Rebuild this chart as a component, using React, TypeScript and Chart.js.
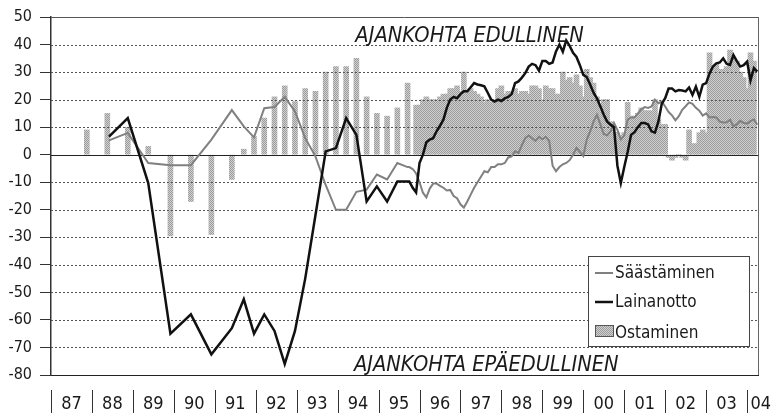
import React, { useEffect, useRef } from 'react';
import { Chart, registerables } from 'chart.js';

Chart.register(...registerables);

// x positions are months counted from January 1987
const yearLabels = ['87', '88', '89', '90', '91', '92', '93', '94', '95', '96', '97', '98', '99', '00', '01', '02', '03', '04'];
const yearLabelPos = [6, 18, 30, 42, 54, 66, 78, 90, 102, 114, 126, 138, 150, 162, 174, 186, 198, 208];
const yearBoundaries = [0, 12, 24, 36, 48, 60, 72, 84, 96, 108, 120, 132, 144, 156, 168, 180, 192, 204];

const yTicks = [50, 40, 30, 20, 10, 0, -10, -20, -30, -40, -50, -60, -70, -80];

const noteTop = 'AJANKOHTA EDULLINEN';
const noteBottom = 'AJANKOHTA EPÄEDULLINEN';

const seriesNames = ['Säästäminen', 'Lainanotto', 'Ostaminen'];

// Ostaminen (bars): sparse early readings, then monthly from month 107
const ostaminenEarlyX = [10.5, 16.5, 22.5, 28.5, 35, 41, 47, 53, 56.5, 59.5, 62.5, 65.5, 68.5, 71.5, 74.5, 77.5, 80.5, 83.5, 86.5, 89.5, 92.5, 95.5, 98.5, 101.5, 104.5];
const ostaminenEarlyY = [9, 15, 10, 3, -29.5, -17, -29, -9, 2, 6.6, 13.3, 21, 25, 19.3, 24, 23, 30, 32, 32, 35, 21, 15, 14, 17, 26];
const ostaminenMonthlyStart = 107;
const ostaminenMonthly = [
  18, 18, 20, 21, 20, 20, 20, 21, 22, 22,
  24, 24, 25, 23, 30, 23, 24, 23, 22, 21,
  19, 20, 19, 20, 24, 25, 22, 23, 22, 24,
  22, 23, 23, 22, 25, 25, 24, 20, 25, 24,
  24, 22, 22, 30, 27, 28, 26, 29, 25, 21,
  31, 28, 26, 21, 16, 20, 20, 12, 8, 8,
  7, 8, 19, 14, 14, 15, 17, 16, 16, 16,
  20, 13, 11, 11, -1, -2, -1, 0, -1, -2,
  9, 4, 4, 8, 9, 8, 37, 32, 33, 31,
  31, 32, 38, 35, 34, 30, 28, 24, 37, 34,
];

// Lainanotto (black line)
const lainaEarlyX = [17, 22.5, 28.5, 35, 41, 47, 53, 56.5, 59.5, 62.5, 65.5, 68.5, 71.5, 74.5, 77.5, 80.5, 83.5, 86.5, 89.5, 92.5, 95.5, 98.5, 101.5, 104.5];
const lainaEarlyY = [6.6, 13.3, -10.3, -65, -58, -72.5, -63, -52.5, -65, -58, -64, -76, -64, -45, -22, 1.2, 2.4, 13.3, 7.2, -17, -11.5, -17, -9.7, -9.7];
const lainaMonthlyStart = 105;
const lainaMonthly = [
  -9.7, -12, -13.7, -3, 0, 4.5, 5.5, 6, 8.5, 10.5,
  12.7, 17, 20, 21, 20.5, 22, 23, 23, 24.5, 26,
  25.5, 25.2, 24.8, 22.5, 20, 19.3, 20, 19.5, 20.5, 21,
  22, 26, 26.6, 28, 29.6, 32, 33, 32.5, 30.5, 34,
  34, 33, 33.5, 37.5, 40, 37.4, 41.5, 39.5, 37, 35.5,
  32.5, 29, 28.2, 25.5, 22.5, 20.5, 17.5, 14.5, 12, 10.9,
  10, -4, -10.3, -4.5, 1, 7.2, 8.2, 10, 11.5, 11.5,
  11, 8.5, 8, 12, 18.5, 20.5, 24, 24, 23, 23.5,
  23.3, 23, 24.4, 21.7, 24.7, 21, 25.4, 26, 29.5, 32,
  33.2, 33.5, 35, 33, 32.6, 36.2, 34, 32, 32.5, 33.8,
  27, 31.4, 30.2,
];

// Säästäminen (grey line)
const saastoEarlyX = [17, 22.5, 28.5, 35, 41, 47, 53, 56.5, 59.5, 62.5, 65.5, 68.5, 71.5, 74.5, 77.5, 80.5, 83.5, 86.5, 89.5, 92.5, 95.5, 98.5, 101.5, 104.5];
const saastoEarlyY = [5.2, 7.9, -3, -3.8, -3.8, 5.5, 16.2, 10.3, 6.3, 16.9, 17.3, 21, 15.7, 6, -0.6, -11, -20, -20, -13.5, -12.7, -7.2, -9, -3, -4.5];
const saastoMonthlyStart = 105;
const saastoMonthly = [
  -4.5, -5.2, -6.8, -10, -13.8, -15.5, -12.3, -10.5, -10.5, -11.3,
  -12, -13, -12.8, -15, -15.8, -18, -19.2, -17, -14.5, -12,
  -10, -8, -6, -6.4, -4.5, -4.5, -3.5, -3.5, -3, -1,
  -0.6, 1.2, 0.6, 3.5, 6, 7, 6, 5, 6.5, 5.6,
  6.5, 5, -4, -6, -4.5, -3.5, -3, -2, 0, 2.5,
  1, -0.5, 5.4, 8.5, 12, 14.5, 11, 7.5, 7, 8.5,
  11.5, 9, 5.5, 7, 12.7, 13.5, 13.5, 15, 16.5, 17.3,
  17, 17.5, 20, 18.7, 19.3, 17.5, 15.5, 14.3, 12.5, 14,
  16.3, 17.6, 19, 18.5, 17, 16, 14.2, 15, 13.5, 13.7,
  13.5, 12, 11.7, 11.8, 12.7, 10.3, 11, 12.3, 11.5, 11.3,
  12.2, 12.8, 10.9,
];

const FONT = '"Liberation Sans Narrow", "DejaVu Sans Condensed", "Arial Narrow", Roboto, sans-serif';
const SAASTO_COLOR = '#808080';
const LAINA_COLOR = '#111111';

function toPoints(xs: number[], ys: number[], start: number, monthly: number[]) {
  const pts = xs.map((x, i) => ({ x, y: ys[i] }));
  monthly.forEach((v, i) => pts.push({ x: start + i, y: v }));
  return pts;
}

function makePattern(): CanvasPattern | string {
  const c = document.createElement('canvas');
  c.width = 2;
  c.height = 2;
  const g = c.getContext('2d');
  if (!g) return '#b5b5b5';
  g.fillStyle = '#d0d0d0';
  g.fillRect(0, 0, 2, 2);
  g.fillStyle = '#9c9c9c';
  g.fillRect(0, 0, 1, 1);
  g.fillRect(1, 1, 1, 1);
  const p = g.createPattern(c, 'repeat');
  return p || '#b5b5b5';
}

// horizontal grid lines, drawn just after the bars so they show through them
const gridPlugin = {
  id: 'hgrid',
  afterDatasetDraw(chart: any, args: any) {
    if (args.index !== 2) return;
    const { ctx, chartArea, scales } = chart;
    const ys = scales.y;
    ctx.save();
    yTicks.forEach((v) => {
      const py = Math.round(ys.getPixelForValue(v)) + 0.5;
      if (v === 0 || v === -80) {
        ctx.strokeStyle = '#222';
        ctx.lineWidth = 1.2;
        ctx.setLineDash([]);
      } else if (v === 50) {
        ctx.strokeStyle = '#555';
        ctx.lineWidth = 1;
        ctx.setLineDash([]);
      } else {
        ctx.strokeStyle = '#555';
        ctx.lineWidth = 1;
        ctx.setLineDash([2, 2]);
      }
      ctx.beginPath();
      ctx.moveTo(chartArea.left, py);
      ctx.lineTo(chartArea.right, py);
      ctx.stroke();
    });
    ctx.restore();
  },
};

const decorPlugin = {
  id: 'decor',
  afterDraw(chart: any) {
    const { ctx, chartArea, scales } = chart;
    const xs = scales.x;
    const ys = scales.y;
    ctx.save();
    // right border of plot
    ctx.strokeStyle = '#666';
    ctx.lineWidth = 1;
    ctx.beginPath();
    ctx.moveTo(Math.round(chartArea.right) + 0.5, chartArea.top);
    ctx.lineTo(Math.round(chartArea.right) + 0.5, chartArea.bottom);
    ctx.stroke();
    // year separators below the plot
    ctx.strokeStyle = '#333';
    yearBoundaries.forEach((b) => {
      const px = Math.round(xs.getPixelForValue(b)) + 0.5;
      ctx.beginPath();
      ctx.moveTo(px, chartArea.bottom + 15);
      ctx.lineTo(px, chartArea.bottom + 38);
      ctx.stroke();
    });
    // notes
    ctx.fillStyle = '#1a1a1a';
    ctx.font = 'italic 21.6px ' + FONT;
    ctx.textAlign = 'left';
    ctx.textBaseline = 'alphabetic';
    ctx.fillText(noteTop, xs.getPixelForValue(89.2), ys.getPixelForValue(41));
    ctx.fillText(noteBottom, xs.getPixelForValue(88.8), ys.getPixelForValue(-78.5));
    // legend box
    const bx = chartArea.right - 170;
    const by = chartArea.bottom - 119;
    ctx.fillStyle = '#fff';
    ctx.fillRect(bx, by, 161, 90);
    ctx.strokeStyle = '#444';
    ctx.lineWidth = 1;
    ctx.strokeRect(Math.round(bx) + 0.5, Math.round(by) + 0.5, 161, 90);
    ctx.font = '17px ' + FONT;
    const ds = chart.data.datasets;
    const rows = [
      { ds: ds[0], y: by + 17, base: by + 22, kind: 'line' },
      { ds: ds[1], y: by + 46, base: by + 51, kind: 'line' },
      { ds: ds[2], y: by + 75, base: by + 82, kind: 'box' },
    ];
    rows.forEach((r) => {
      if (r.kind === 'line') {
        ctx.strokeStyle = r.ds.borderColor;
        ctx.lineWidth = r.ds.borderWidth;
        ctx.beginPath();
        ctx.moveTo(bx + 7, r.y);
        ctx.lineTo(bx + 25, r.y);
        ctx.stroke();
      } else {
        ctx.fillStyle = r.ds.backgroundColor;
        ctx.fillRect(bx + 7, r.y - 5, 18, 11);
        ctx.strokeStyle = '#555';
        ctx.lineWidth = 1;
        ctx.strokeRect(bx + 7.5, r.y - 5.5, 18, 11);
      }
      ctx.fillStyle = '#1a1a1a';
      ctx.fillText(r.ds.label, bx + 27, r.base);
    });
    ctx.restore();
  },
};

export default function App() {
  const ref = useRef<HTMLCanvasElement | null>(null);

  useEffect(() => {
    document.body.style.margin = '0';
    const canvas = ref.current;
    if (!canvas) return;
    const pattern = makePattern();
    const chart = new Chart(canvas, {
      type: 'bar',
      data: {
        datasets: [
          {
            type: 'line',
            label: seriesNames[0],
            data: toPoints(saastoEarlyX, saastoEarlyY, saastoMonthlyStart, saastoMonthly),
            borderColor: SAASTO_COLOR,
            borderWidth: 2,
            pointRadius: 0,
            tension: 0,
            order: 2,
          } as any,
          {
            type: 'line',
            label: seriesNames[1],
            data: toPoints(lainaEarlyX, lainaEarlyY, lainaMonthlyStart, lainaMonthly),
            borderColor: LAINA_COLOR,
            borderWidth: 2.5,
            pointRadius: 0,
            tension: 0,
            order: 1,
          } as any,
          {
            type: 'bar',
            label: seriesNames[2],
            data: toPoints(ostaminenEarlyX, ostaminenEarlyY, ostaminenMonthlyStart, ostaminenMonthly),
            backgroundColor: pattern as any,
            borderWidth: 0,
            barThickness: 5,
            order: 3,
          } as any,
        ],
      },
      options: {
        responsive: false,
        animation: false,
        devicePixelRatio: 1,
        layout: { padding: { top: 17, right: 13, left: 0, bottom: 0 } },
        plugins: { legend: { display: false }, tooltip: { enabled: false } },
        scales: {
          x: {
            type: 'linear',
            min: 0,
            max: 207.2,
            offset: false,
            afterBuildTicks: (s: any) => {
              s.ticks = yearLabelPos.map((v) => ({ value: v }));
            },
            afterFit: (s: any) => {
              s.height = 38;
              s.paddingLeft = 0;
              s.paddingRight = 0;
            },
            ticks: {
              autoSkip: false,
              maxRotation: 0,
              minRotation: 0,
              padding: 19,
              color: '#1a1a1a',
              font: { family: FONT, size: 18 },
              callback: (_v: any, i: number) => yearLabels[i],
            },
            grid: { display: false, drawTicks: false, offset: false },
            border: { display: true, color: '#222', width: 1 },
          },
          y: {
            min: -80,
            max: 50,
            afterBuildTicks: (s: any) => {
              s.ticks = yTicks.map((v) => ({ value: v }));
            },
            afterFit: (s: any) => {
              s.width = 51;
              s.paddingTop = 0;
              s.paddingBottom = 0;
            },
            ticks: {
              padding: 8,
              color: '#1a1a1a',
              font: { family: FONT, size: 16 },
            },
            grid: {
              drawOnChartArea: false,
              drawTicks: true,
              tickColor: '#333',
              tickLength: 11,
              lineWidth: 1,
              color: '#333',
            },
            border: { display: true, color: '#333', width: 1.5 },
          },
        },
      },
      plugins: [gridPlugin, decorPlugin],
    } as any);
    return () => chart.destroy();
  }, []);

  return (
    <div style={{ width: 771, height: 413, position: 'relative', background: '#fff' }}>
      <canvas ref={ref} width={771} height={413} style={{ display: 'block' }} />
    </div>
  );
}
